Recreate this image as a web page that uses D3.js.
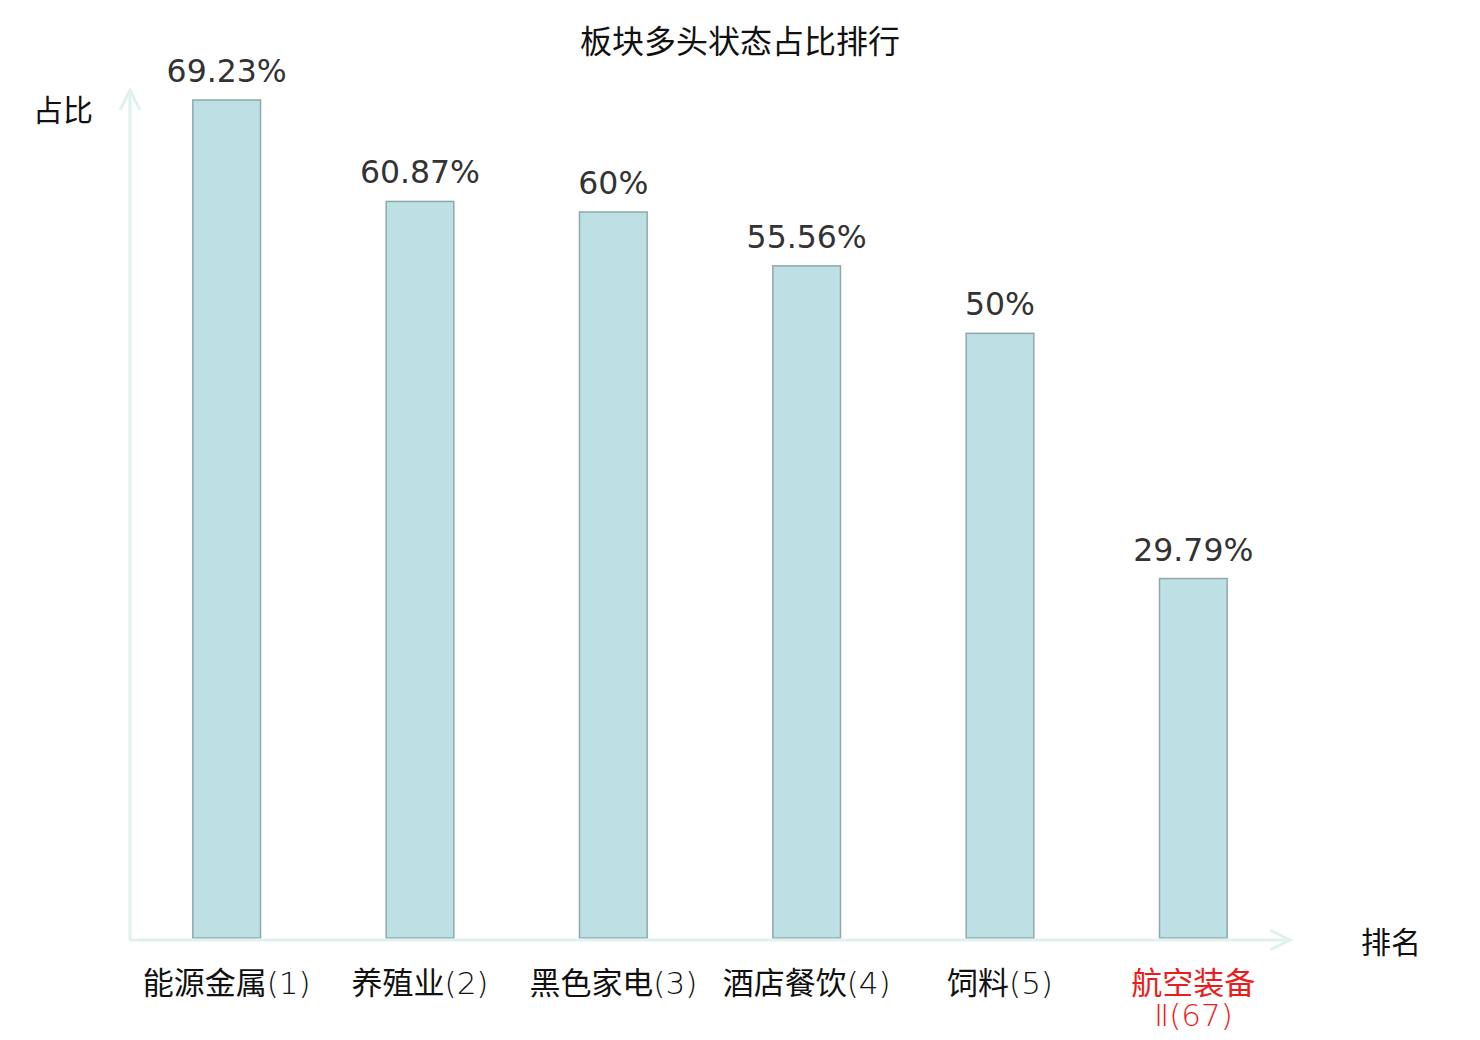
<!DOCTYPE html>
<html>
<head>
<meta charset="utf-8">
<title>板块多头状态占比排行</title>
<script src="https://cdn.jsdelivr.net/npm/d3@7/dist/d3.min.js"></script>
<style>
  body { margin: 0; background: #fff; }
  .cat { font-family: "DejaVu Sans", "Noto Sans CJK SC", sans-serif; font-size: 31px; }
  .cat .lat { font-weight: 200; }
  .cat .cjk { font-family: "Noto Sans CJK SC", sans-serif; font-weight: 400; }
  .val { font-family: "DejaVu Sans", sans-serif; font-size: 31.5px; fill: #333; }
</style>
</head>
<body>
<div id="chart"></div>
<script>
// data
const sectors = ["能源金属", "养殖业", "黑色家电", "酒店餐饮", "饲料", "航空装备Ⅱ"];
const ranks = [1, 2, 3, 4, 5, 67];
const ratios = [69.23, 60.87, 60, 55.56, 50, 29.79];
const highlight = [false, false, false, false, false, true];

const width = 1480, height = 1040;
const margin = {top: 100, right: 190, bottom: 100, left: 130};

const svg = d3.select("#chart").append("svg")
    .attr("width", width)
    .attr("height", height);

const x = d3.scaleBand()
    .domain(sectors)
    .range([margin.left, width - margin.right])
    .padding(0);

const y = d3.scaleLinear()
    .domain([0, d3.max(ratios)])
    .range([height - margin.bottom, margin.top]);

const barW = x.bandwidth() * 0.35;
const base = y(0);

// title
svg.append("text")
    .attr("x", width / 2)
    .attr("y", 53)
    .attr("text-anchor", "middle")
    .style("font-family", "Noto Sans CJK SC, sans-serif")
    .style("font-size", "32px")
    .attr("fill", "#111")
    .text("板块多头状态占比排行");

// bars
svg.append("g").selectAll("rect")
    .data(sectors)
    .enter().append("rect")
    .attr("x", d => x(d) + x.bandwidth() / 2 - barW / 2)
    .attr("y", (d, i) => y(ratios[i]))
    .attr("width", barW)
    .attr("height", (d, i) => base - 2 - y(ratios[i]))
    .attr("fill", "#bce0e3")
    .attr("stroke", "#8fa9aa")
    .attr("stroke-width", 1.5);

// value labels
svg.append("g").selectAll("text")
    .data(sectors)
    .enter().append("text")
    .attr("class", "val")
    .attr("x", d => x(d) + x.bandwidth() / 2)
    .attr("y", (d, i) => y(ratios[i]) - 18)
    .attr("text-anchor", "middle")
    .text((d, i) => (+ratios[i].toFixed(2)) + "%");

// axes with arrows
const axisColor = "#dff2ef";
const axes = svg.append("g")
    .attr("stroke", axisColor)
    .attr("stroke-width", 3)
    .attr("fill", "none");
const xEnd = width - margin.right, yEnd = margin.top - 10;
axes.append("line").attr("x1", margin.left).attr("x2", xEnd).attr("y1", base).attr("y2", base);
axes.append("line").attr("x1", margin.left).attr("x2", margin.left).attr("y1", base).attr("y2", yEnd);
axes.append("path").attr("d", `M${xEnd - 20},${base - 10}L${xEnd},${base}L${xEnd - 20},${base + 10}`);
axes.append("path").attr("d", `M${margin.left - 10},${yEnd + 20}L${margin.left},${yEnd}L${margin.left + 10},${yEnd + 20}`);

// axis names
svg.append("text")
    .attr("x", 63).attr("y", 121)
    .attr("text-anchor", "middle")
    .style("font-family", "Noto Sans CJK SC, sans-serif")
    .style("font-size", "30px")
    .attr("fill", "#111")
    .text("占比");
svg.append("text")
    .attr("x", 1391).attr("y", 953)
    .attr("text-anchor", "middle")
    .style("font-family", "Noto Sans CJK SC, sans-serif")
    .style("font-size", "30px")
    .attr("fill", "#111")
    .text("排名");

// category labels, wrapped to band width (CJK chars break anywhere, other runs stay whole)
const isCjk = s => /[\u4e00-\u9fff]/.test(s);
const labels = svg.append("g").selectAll("text")
    .data(sectors)
    .enter().append("text")
    .attr("class", "cat")
    .attr("text-anchor", "middle")
    .attr("fill", (d, i) => highlight[i] ? "#ec1c1c" : "#111")
    .attr("transform", d => `translate(${x(d) + x.bandwidth() / 2},994)`);

function fillLine(sel, toks) {
    toks.forEach(tk => sel.append("tspan").attr("class", isCjk(tk) ? "cjk" : "lat").text(tk));
}

labels.each(function(d, i) {
    const el = d3.select(this);
    const full = d + "(" + ranks[i] + ")";
    const tokens = full.match(/[\u4e00-\u9fff]|[^\u4e00-\u9fff]+/g);
    const lines = [];
    let cur = [];
    const probe = el.append("tspan");
    for (const tk of tokens) {
        probe.selectAll("*").remove();
        fillLine(probe, cur.concat([tk]));
        if (cur.length && probe.node().getComputedTextLength() > x.bandwidth() - 10) {
            lines.push(cur);
            cur = [tk];
        } else {
            cur.push(tk);
        }
    }
    lines.push(cur);
    probe.remove();
    lines.forEach((ln, k) => {
        fillLine(el.append("tspan").attr("x", 0).attr("dy", k ? 32 : 0), ln);
    });
});
</script>
</body>
</html>
